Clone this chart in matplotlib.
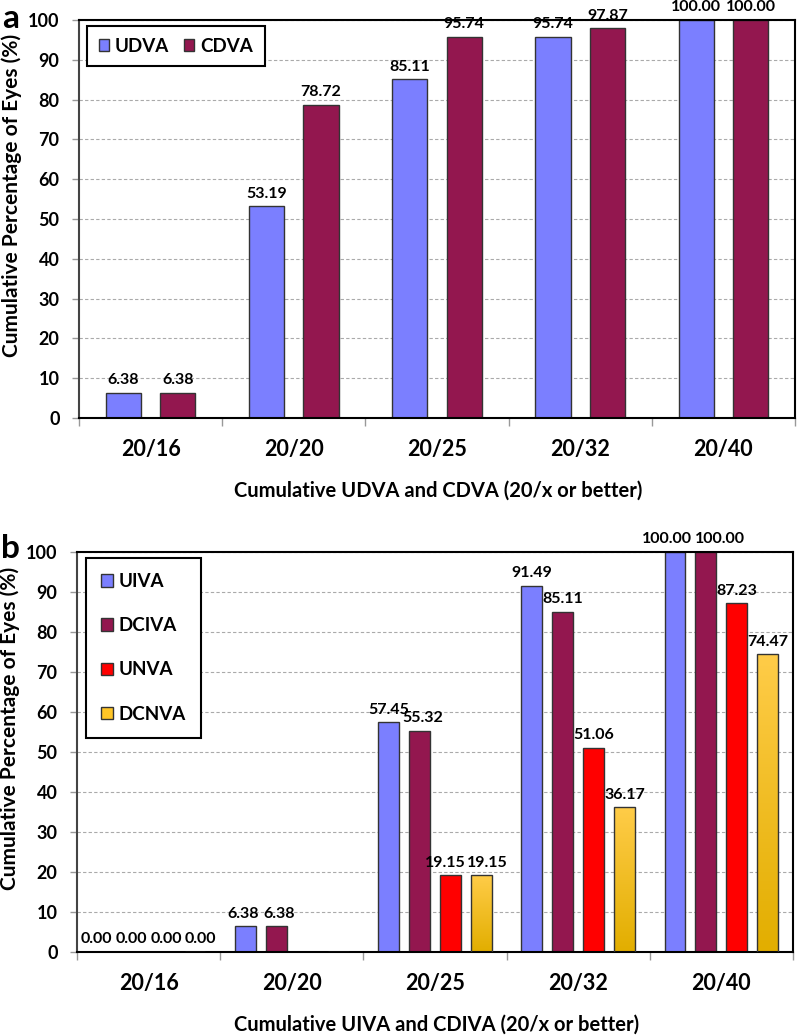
import matplotlib
matplotlib.use("Agg")
import matplotlib.pyplot as plt
from matplotlib.patches import Patch
import numpy as np

plt.rcParams['font.family'] = ['Lato', 'DejaVu Sans']
plt.rcParams['font.weight'] = 'bold'

# data
cats = ['20/16', '20/20', '20/25', '20/32', '20/40']
udva = [6.38, 53.19, 85.11, 95.74, 100.00]
cdva = [6.38, 78.72, 95.74, 97.87, 100.00]
uiva = [0.00, 6.38, 57.45, 91.49, 100.00]
dciva = [0.00, 6.38, 55.32, 85.11, 100.00]
unva = [0.00, np.nan, 19.15, 51.06, 87.23]
dcnva = [0.00, np.nan, 19.15, 36.17, 74.47]

c_blue = '#7B7FFF'
c_maroon = '#93174F'
c_red = '#FF0000'
c_gold = '#FFC526'
edge = '#333333'

fig = plt.figure(figsize=(7.97, 10.35), dpi=100)
ax1 = fig.add_axes([79/797, 1-418/1035, 716/797, 398/1035])
ax2 = fig.add_axes([77/797, 1-952/1035, 716/797, 400/1035])


def style_axes(ax, xlabel, xlab_y):
    ax.set_xlim(-0.5, len(cats) - 0.5)
    ax.set_ylim(0, 100)
    ax.set_yticks(np.arange(0, 101, 10))
    ax.set_xticks(np.arange(len(cats)))
    ax.set_xticklabels(cats, fontsize=15.5, fontweight='bold')
    ax.set_xticks(np.arange(-0.5, len(cats)), minor=True)
    ax.tick_params(axis='x', which='major', length=0, pad=15)
    ax.tick_params(axis='x', which='minor', length=6, color='#999999', width=1)
    ax.tick_params(axis='y', length=5, color='#999999', width=1, pad=9, labelsize=13)
    for t in ax.get_yticklabels():
        t.set_fontweight('bold')
    ax.yaxis.grid(True, linestyle=(0, (3, 2)), color='#aaaaaa', lw=0.8)
    ax.set_axisbelow(True)
    for s in ax.spines.values():
        s.set_linewidth(1.5)
        s.set_color('black')
    ax.spines['left'].set_color('#444444')
    ax.set_xlabel(xlabel, fontsize=14.5, fontweight='bold')
    ax.set_ylabel('Cumulative Percentage of Eyes (%)', fontsize=15, fontweight='bold')
    ax.xaxis.set_label_coords(0.502, xlab_y)
    ax.yaxis.set_label_coords(-0.08, 0.56)


def label_bars(ax, xs, vals, nudge=None):
    nudge = nudge or {}
    for i, (x, v) in enumerate(zip(xs, vals)):
        if np.isnan(v):
            continue
        ax.annotate(f'{v:.2f}', (x, v), xytext=(nudge.get(i, 0), 4),
                    textcoords='offset points', ha='center', va='bottom',
                    fontsize=11.5, fontweight='bold', annotation_clip=False)


x = np.arange(len(cats))

# panel a
w1 = 0.245
off1 = 0.19
ax1.bar(x - off1, udva, w1, color=c_blue, edgecolor=edge, lw=1, zorder=2)
ax1.bar(x + off1, cdva, w1, color=c_maroon, edgecolor=edge, lw=1, zorder=2)
label_bars(ax1, x - off1, udva)
label_bars(ax1, x + off1, cdva)
style_axes(ax1, 'Cumulative UDVA and CDVA (20/x or better)', -0.158)
leg1 = ax1.legend([Patch(facecolor=c_blue, edgecolor=edge), Patch(facecolor=c_maroon, edgecolor=edge)],
                  ['UDVA', 'CDVA'], ncol=2, loc='upper left', bbox_to_anchor=(0.011, 0.985),
                  borderaxespad=0, fancybox=False, edgecolor='black', framealpha=1,
                  handlelength=0.55, handleheight=0.55, handletextpad=0.32, columnspacing=0.8,
                  prop={'size': 13.5, 'weight': 'bold'}, borderpad=0.62)
leg1.get_frame().set_linewidth(1.5)

# panel b
w2 = 0.146
pitch = 0.216
series = [(uiva, c_blue), (dciva, c_maroon), (unva, c_red), (dcnva, None)]
# label nudges (points) to keep neighbouring labels apart
nudges = [{0: -4, 1: -2, 4: -6}, {0: -1.5, 1: 2, 2: 2, 4: 10}, {0: 1.5, 2: -4}, {0: 4, 2: 4}]
grad = np.linspace(0, 1, 100).reshape(-1, 1)
gcmap = matplotlib.colors.LinearSegmentedColormap.from_list('g', ['#E2AE00', '#FFCC48'])
for k, (vals, col) in enumerate(series):
    xs = x + (k - 1.5) * pitch
    vv = np.nan_to_num(vals)
    if col is None:
        bars = ax2.bar(xs, vv, w2, facecolor='none', edgecolor=edge, lw=1, zorder=3)
        for bar, v in zip(bars, vv):
            if v <= 0:
                continue
            bx = bar.get_x()
            im = ax2.imshow(grad, extent=[bx, bx + w2, 0, v], origin='lower',
                            aspect='auto', cmap=gcmap, zorder=2)
            im.set_clip_path(bar)
    else:
        ax2.bar(xs, vv, w2, color=col, edgecolor=edge, lw=1, zorder=2)
    label_bars(ax2, xs, vals, nudges[k])
style_axes(ax2, 'Cumulative UIVA and CDIVA (20/x or better)', -0.1575)
leg2 = ax2.legend([Patch(facecolor=c, edgecolor=edge) for c in [c_blue, c_maroon, c_red, c_gold]],
                  ['UIVA', 'DCIVA', 'UNVA', 'DCNVA'], ncol=1, loc='upper left',
                  bbox_to_anchor=(0.012, 0.985), borderaxespad=0, fancybox=False,
                  edgecolor='black', framealpha=1, handlelength=0.65, handleheight=0.65,
                  handletextpad=0.3, labelspacing=1.45, prop={'size': 13.5, 'weight': 'bold'},
                  borderpad=0.8)
leg2.get_frame().set_linewidth(1.5)

fig.text(11/797, 1-18/1035, 'a', fontsize=24, fontweight='bold', ha='center', va='center')
fig.text(10/797, 1-548/1035, 'b', fontsize=24, fontweight='bold', ha='center', va='center')

fig.savefig('out.png', dpi=100)
